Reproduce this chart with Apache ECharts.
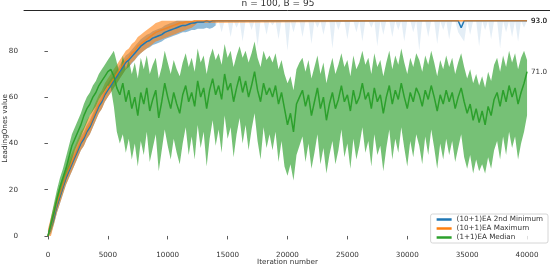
<!DOCTYPE html>
<html>
<head>
<meta charset="utf-8">
<script src="https://cdn.jsdelivr.net/npm/echarts@6/dist/echarts.min.js"></script>
<style>html,body{margin:0;padding:0;background:#fff}#c{width:550px;height:268px}</style>
</head>
<body>
<div id="c"></div>
<script>
// ---------- data ----------
const titleText = "n = 100, B = 95";
const xTicks = [0, 5000, 10000, 15000, 20000, 25000, 30000, 35000, 40000];
const yTicks = [0, 20, 40, 60, 80];
const seriesNames = ["(10+1)EA 2nd Minimum", "(10+1)EA Maximum", "(1+1)EA Median"];
const sampleStep = 250; // iterations between samples (0..40000)

// (10+1)EA 2nd Minimum (blue), 161 samples
const blueMed = [0,4,8,13,17,21,25,28,31,34, 37,40,42,45,47,50,53,56,58,61, 63,65,67,69,71,73,75,76,77.5,79,
 80.5,82,83,84,84.5,85.5,86,86.5,87,88, 88.5,89,89.5,90,90.5,91,91,91.5,92,92, 92.5,92.5,92.5,93,92.5,93,
 93,93,93,93,93,93,93,93,93,93,
 93,93,93,93,93,93,93,93,93,93,
 93,93,93,93,93,93,93,93,93,93,
 93,93,93,93,93,93,93,93,93,93,
 93,93,93,93,93,93,93,93,93,93,
 93,93,93,93,93,93,93,93,93,93,
 93,93,93,93,93,93,93,93,93,93,
 93,93,93,93,93,93,93,93,93,93,
 93,93,90,93,93,93,93,93,93,93,
 93,93,93,93,93,93,93,93,93,93,
 93,93,93,93,93];
const blueLo = [0,1,5,10,14,18,22,25,28,31, 34,37,39,42,44,47,50,53,55,58, 60,62,64,66,68,70,72,73,74.5,76,
 77.5,79,80,81,81.5,82.5,83,83.5,84,85, 85.5,86,86.5,87,87.5,88,88,88.5,89,89, 89.5,89.5,89.5,90,89.5,90,
 91,93,88,93,93,86,93,90,93,84, 93,93,89,93,82,93,93,87,93,91, 93,85,93,93,80,93,88,93,93,86,
 93,93,83,93,90,93,87,93,93,81, 93,89,93,93,85,93,93,88,93,84, 93,93,90,93,82,93,87,93,93,86,
 93,89,93,84,93,93,88,93,80,93, 93,86,93,93,83,93,89,93,85,93, 93,88,86,84,93,87,93,93,82,93,
 89,93,85,93,93,81,93,88,93,86, 93,84,93,90,93];
const blueHi = [2,7,11,16,20,24,28,31,34,37, 40,43,45,48,50,53,56,59,61,64, 66,68,70,72,74,76,78,79,80.5,82,
 83.5,85,86,87,87.5,88.5,89,89.5,90,91, 91.5,92,92.5,93,93,93,93,93,93,93, 93,93,93,93,93,93,
 93,93,93,93,93,93,93,93,93,93,
 93,93,93,93,93,93,93,93,93,93,
 93,93,93,93,93,93,93,93,93,93,
 93,93,93,93,93,93,93,93,93,93,
 93,93,93,93,93,93,93,93,93,93,
 93,93,93,93,93,93,93,93,93,93,
 93,93,93,93,93,93,93,93,93,93,
 93,93,93,93,93,93,93,93,93,93,
 93,93,93,93,93,93,93,93,93,93,
 93,93,93,93,93,93,93,93,93,93,
 93,93,93,93,93];

// (10+1)EA Maximum (orange): 51 samples up to 12500, then the plateau end point at 40000
const orangeLastIter = 40000;
const orangeMed = [0,4,9,14,18,22,26,29,32,35, 38,41,43,46,48,51,54,57,59,62, 64,66,68,70,72,74,76,77,79,80,
 82,83,84,85,86,87,88,88.5,89,89.5, 90,90.5,91,91.5,92,92,92.5,92.5,92.5,93, 93, 93];
const orangeLo = [0,0,5,10,14,18,22,25,28,31, 34,37,39,42,44,47,50,53,55,58, 60,62,64,66,68,70,72,73,75,76,
 78,79,80,81,82,83,84,84.5,85,85.5, 86,86.5,87,87.5,88,88.5,89,89.5,90,91, 92, 93];
const orangeHi = [3,8,13,18,22,26,30,33,36,39, 42,45,47,50,52,55,58,61,63,66, 68,70,72,74,76,78,80,81,83,84,
 86,87,88,89,90,91,92,92.5,93,93, 93,93,93,93,93,93,93,93,93,93, 93, 93];

// (1+1)EA Median (green), 161 samples
const greenMed = [0,5,10,16,21,25,29,34,39,42, 45,48,52,55,57,60,62,65,67,69, 71,72,69,64,61,
 66,58,63,55,60,52,62,57,64,54, 59,63,51,58,66,60,55,62,57,53, 61,65,58,62,56,67,60,64,55,63,
 68,61,65,59,70,63,66,58,64,69, 62,67,60,65,71,63,58,66,61,64, 60,65,57,62,55,48,53,45,57,60,
 63,56,61,52,58,64,55,60,50,57, 62,55,59,65,58,61,54,63,57,60, 66,59,62,55,64,58,61,53,60,65,
 57,63,59,66,60,55,62,58,64,61, 56,63,59,65,60,54,61,57,63,58, 62,55,60,64,58,53,57,50,55,49,
 54,48,56,52,59,62,56,63,58,65, 60,64,57,62,66,71];
const greenHi = [1,8,14,20,25,29,34,39,44,47, 50,53,57,60,62,65,67,70,72,74, 76,78,80,75,70,
 78,72,76,70,75,68,77,72,78,70, 74,77,68,73,80,75,70,76,72,69, 75,79,73,77,71,81,75,78,70,77,
 81,76,79,74,83,77,80,73,78,82, 77,80,75,79,84,77,73,80,76,78, 75,79,72,76,70,66,69,63,72,75,
 77,71,76,68,73,78,70,75,66,72, 77,70,74,79,73,76,69,78,72,75, 80,74,77,70,79,73,76,69,75,80,
 72,78,74,81,75,70,77,73,79,76, 71,78,74,80,75,69,76,72,78,73, 77,70,75,79,73,68,72,66,70,65,
 69,64,71,67,74,77,71,78,73,80, 75,79,72,77,80,76];
const greenLo = [0,2,6,12,16,20,24,28,33,37, 40,43,46,49,52,54,56,59,61,63, 65,64,56,45,40,
 44,36,42,33,40,30,41,35,45,32, 38,44,28,37,46,39,33,42,36,31, 40,47,35,43,33,48,38,45,30,42,
 50,39,46,36,52,42,47,34,44,51, 40,48,37,46,53,41,33,47,38,44, 37,45,32,41,30,26,31,24,35,39,
 43,32,40,29,36,44,31,38,27,35, 41,31,37,46,34,40,29,42,33,39, 47,36,41,30,44,35,39,28,38,46,
 33,42,36,47,38,30,41,34,44,39, 31,43,35,46,38,29,40,33,42,35, 41,32,38,44,34,29,35,27,33,28,
 31,27,34,29,37,41,33,43,35,45, 38,43,33,40,45,52];

// ---------- build ----------
const gridIters = greenMed.map((_, i) => i * sampleStep);
const orangeIters = orangeMed.slice(0, -1).map((_, i) => i * sampleStep).concat([orangeLastIter]);

const C_BLUE = '#1f77b4', C_ORANGE = '#ff7f0e', C_GREEN = '#2ca02c';
const FONT = 'DejaVu Sans', FS = 7.2;

function band(iters, lo, hi, from, to, color, opacity) {
  return {
    type: 'custom', silent: true, clip: true,
    data: [[iters[from], lo[from]]],
    renderItem: (params, api) => {
      const pts = [];
      for (let i = from; i <= to; i++) pts.push(api.coord([iters[i], hi[i]]));
      for (let i = to; i >= from; i--) pts.push(api.coord([iters[i], lo[i]]));
      return { type: 'polygon', shape: { points: pts }, style: { fill: color, opacity: opacity } };
    }
  };
}
function line(name, iters, vals, color, opacity) {
  return {
    type: 'line', name, showSymbol: false, symbol: 'none',
    data: iters.map((x, i) => [x, vals[i]]),
    lineStyle: { color, width: 1.5, opacity }, itemStyle: { color },
    endLabel: { show: true, formatter: p => p.value[1].toFixed(1), fontSize: FS, color: '#333', distance: 4,
      fontFamily: FONT }
  };
}

const tickStyle = { color: '#333', fontSize: FS, fontFamily: FONT };
const option = {
  animation: false,
  title: { text: titleText, left: 273, textAlign: 'center', top: -6,
    textStyle: { fontSize: 9, fontWeight: 'normal', color: '#333', fontFamily: FONT } },
  grid: { left: 24, top: 10, width: 527, height: 236.7, outerBoundsMode: 'none', containLabel: false },
  xAxis: [{
    type: 'value', min: -2000, max: 42000,
    axisLine: { show: false }, splitLine: { show: false },
    axisTick: { show: true, customValues: xTicks, length: 3.5, lineStyle: { color: '#333', width: 0.8 } },
    axisLabel: { customValues: xTicks, margin: 5, formatter: v => String(v), ...tickStyle },
    name: 'Iteration number', nameLocation: 'middle', nameGap: 12, nameMoveOverlap: false,
    nameTextStyle: { fontSize: FS, color: '#333', fontFamily: FONT }
  }, {
    type: 'value', position: 'top', min: -2000, max: 42000,
    axisLine: { show: true, lineStyle: { color: '#262626', width: 1 } },
    axisTick: { show: false }, axisLabel: { show: false }, splitLine: { show: false }
  }],
  yAxis: {
    type: 'value', min: -4.65, max: 97.65,
    axisLine: { show: false }, splitLine: { show: false },
    axisTick: { show: true, customValues: yTicks, length: 3.5, lineStyle: { color: '#333', width: 0.8 } },
    axisLabel: { customValues: yTicks, margin: 6, ...tickStyle },
    name: 'LeadingOnes value', nameLocation: 'middle', nameGap: 15, nameRotate: 90, nameMoveOverlap: false,
    nameTextStyle: { fontSize: FS, color: '#333', fontFamily: FONT }
  },
  legend: {
    data: seriesNames, orient: 'vertical', right: 2, bottom: 25,
    borderColor: '#cccccc', borderWidth: 0.8, borderRadius: 2, backgroundColor: 'rgba(255,255,255,0.8)',
    padding: [2, 5, 2, 6], itemGap: 2, itemWidth: 15, itemHeight: 2.5, icon: 'rect',
    textStyle: { fontSize: FS, color: '#333', fontFamily: FONT }
  },
  series: [
    band(gridIters, blueLo, blueHi, 0, 56, C_BLUE, 0.5),
    band(gridIters, blueLo, blueHi, 56, blueMed.length - 1, C_BLUE, 0.12),
    line(seriesNames[0], gridIters, blueMed, C_BLUE, 1),
    band(orangeIters, orangeLo, orangeHi, 0, orangeMed.length - 1, C_ORANGE, 0.6),
    line(seriesNames[1], orangeIters, orangeMed, C_ORANGE, 0.7),
    band(gridIters, greenLo, greenHi, 0, greenMed.length - 1, C_GREEN, 0.65),
    line(seriesNames[2], gridIters, greenMed, C_GREEN, 1)
  ]
};
echarts.init(document.getElementById('c'), null, { renderer: 'canvas' }).setOption(option);
</script>
</body>
</html>
